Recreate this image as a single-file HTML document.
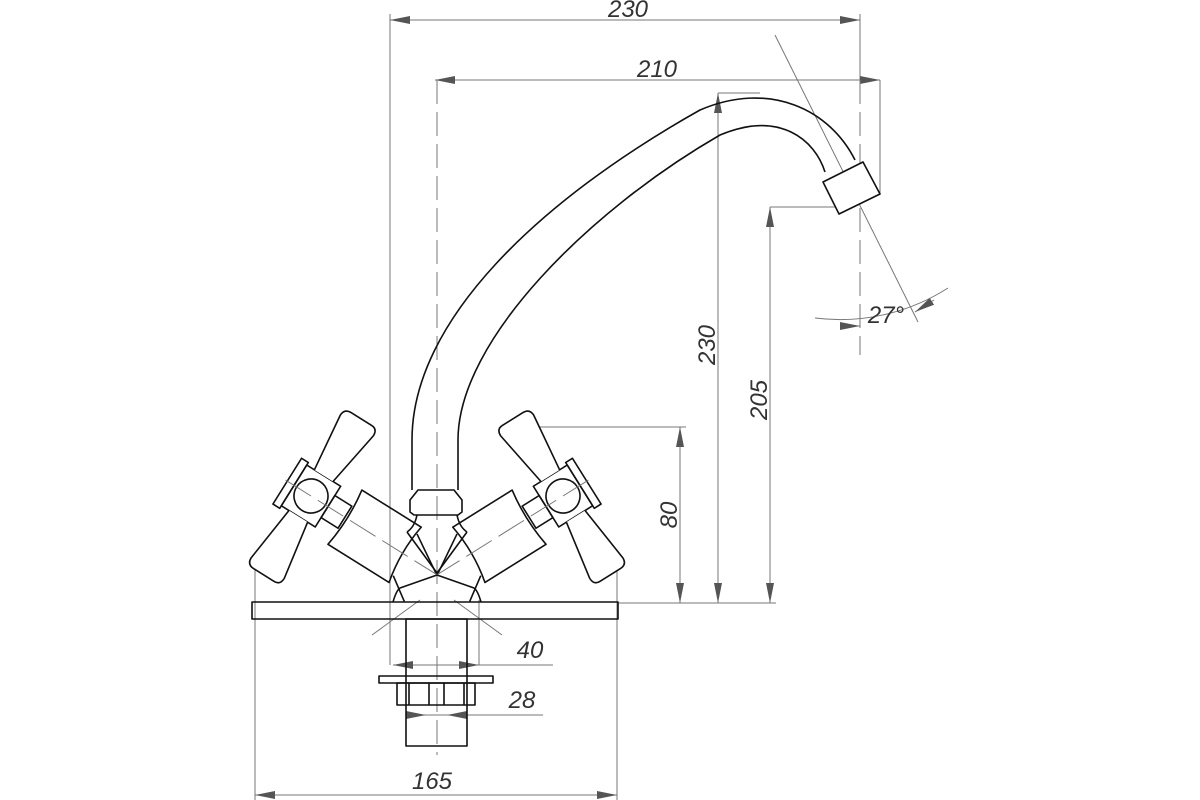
<!DOCTYPE html>
<html><head><style>html,body{margin:0;padding:0;background:#fff}svg{display:block}</style></head><body>
<svg width="1200" height="800" viewBox="0 0 1200 800" xmlns="http://www.w3.org/2000/svg">
<defs>
<marker id="a" viewBox="0 0 20 8" refX="20" refY="4" markerWidth="20" markerHeight="8" markerUnits="userSpaceOnUse" orient="auto-start-reverse"><path d="M0,0 L20,4 L0,8 Z" fill="#555"/></marker>
</defs>
<g stroke="#777" stroke-width="1" fill="none">
<line x1="390" y1="14" x2="390" y2="665"/>
<line x1="860" y1="14" x2="860" y2="80"/>
<line x1="880" y1="80" x2="880" y2="195"/>
<line x1="479" y1="600" x2="479" y2="665"/>
<line x1="255" y1="565" x2="255" y2="800"/>
<line x1="617" y1="565" x2="617" y2="800"/>
<line x1="540" y1="427" x2="686" y2="427"/>
<line x1="718" y1="93" x2="760" y2="93"/>
<line x1="770" y1="207" x2="840" y2="207"/>
<line x1="618" y1="603" x2="776" y2="603"/>
<line x1="390" y1="20" x2="860" y2="20" marker-start="url(#a)" marker-end="url(#a)"/>
<line x1="435" y1="80" x2="880" y2="80" marker-start="url(#a)" marker-end="url(#a)"/>
<line x1="680" y1="427" x2="680" y2="603" marker-start="url(#a)" marker-end="url(#a)"/>
<line x1="718" y1="93" x2="718" y2="603" marker-start="url(#a)" marker-end="url(#a)"/>
<line x1="770" y1="207" x2="770" y2="603" marker-start="url(#a)" marker-end="url(#a)"/>
<line x1="255" y1="795" x2="617" y2="795" marker-start="url(#a)" marker-end="url(#a)"/>
<line x1="393" y1="665" x2="553" y2="665"/>
<line x1="413" y1="665" x2="393" y2="665" marker-end="url(#a)"/>
<line x1="459" y1="665" x2="479" y2="665" marker-end="url(#a)"/>
<line x1="406" y1="715" x2="543" y2="715"/>
<line x1="426" y1="715" x2="406" y2="715" marker-start="url(#a)"/>
<line x1="447" y1="715" x2="467" y2="715" marker-start="url(#a)"/>
<line x1="775" y1="35" x2="918" y2="322"/>
<path d="M815,318 A200,200 0 0 0 948,288"/>
<line x1="840" y1="326" x2="860" y2="326" marker-end="url(#a)"/>
<line x1="934" y1="300" x2="915" y2="312" marker-end="url(#a)"/>
<line x1="437" y1="80" x2="437" y2="755" stroke-dasharray="24,8"/>
<line x1="860" y1="80" x2="860" y2="355" stroke-dasharray="24,8"/>
<line x1="372" y1="635" x2="420" y2="600"/>
<line x1="502" y1="635" x2="454" y2="600"/>
</g>
<g stroke="#111" stroke-width="1.6" fill="none" stroke-linejoin="round">
<path d="M412,490 L412,440 C412,320 540,200 700,110 C770,80 830,110 855,160"/>
<path d="M458,490 L458,440 C458,340 590,210 720,135 C780,110 815,140 825,172"/>
<polygon points="823,182 863,162 880,194 839,214" fill="#fff"/>
<path d="M418,490 L454,490 L462,500 L462,512 L458,515 L414,515 L410,512 L410,500 Z"/>
<path d="M417,515 C415,525 410,530 407,532 M457,515 C459,525 464,530 467,532"/>
<rect x="252" y="602" width="366" height="17"/>
<rect x="406" y="619" width="61" height="127"/>
<rect x="379" y="676" width="114" height="7"/>
<rect x="397" y="683" width="78" height="22"/>
<path d="M409,683V705M429,683V705M444,683V705M464,683V705"/>
<path d="M393,602 C395,595 397,590 400,588 L437,575 L474,588 C477,590 479,595 481,602"/>
<path d="M407,532 L437,573 L467,532"/>
<g id="h" transform="rotate(32 311 496) translate(311 496)">
<circle cx="0" cy="0" r="17"/>
<rect x="-20" y="-24" width="40" height="48"/>
<rect x="-28" y="-27" width="8" height="54"/>
<path d="M-11,-24 L-18,-84 Q-18,-92 -10,-92 L14,-92 Q21,-92 21,-84 L11,-24" fill="#fff"/>
<path d="M-11,24 L-18,84 Q-18,92 -10,92 L14,92 Q21,92 21,84 L11,24" fill="#fff"/>
<rect x="20" y="-13" width="20" height="26"/>
<path d="M40,-32 L110,-32 Q105,0 112,32 L40,32 Q45,0 40,-32 Z"/>
<path d="M110,-24 L148,0 M112,24 L135,40"/>
<line x1="-30" y1="0" x2="148" y2="0" stroke="#777" stroke-width="1" stroke-dasharray="30,8"/>
</g>
<use href="#h" transform="translate(874 0) scale(-1 1)"/>
</g>
<g font-family="'Liberation Sans',sans-serif" font-style="italic" font-size="24" fill="#333" stroke="none">
<text x="628" y="17" text-anchor="middle">230</text>
<text x="657" y="77" text-anchor="middle">210</text>
<text x="530" y="658" text-anchor="middle">40</text>
<text x="522" y="708" text-anchor="middle">28</text>
<text x="432" y="789" text-anchor="middle">165</text>
<text x="886" y="323" text-anchor="middle">27°</text>
<text transform="translate(677 515) rotate(-90)" text-anchor="middle">80</text>
<text transform="translate(715 345) rotate(-90)" text-anchor="middle">230</text>
<text transform="translate(767 400) rotate(-90)" text-anchor="middle">205</text>
</g>
</svg>
</body></html>
